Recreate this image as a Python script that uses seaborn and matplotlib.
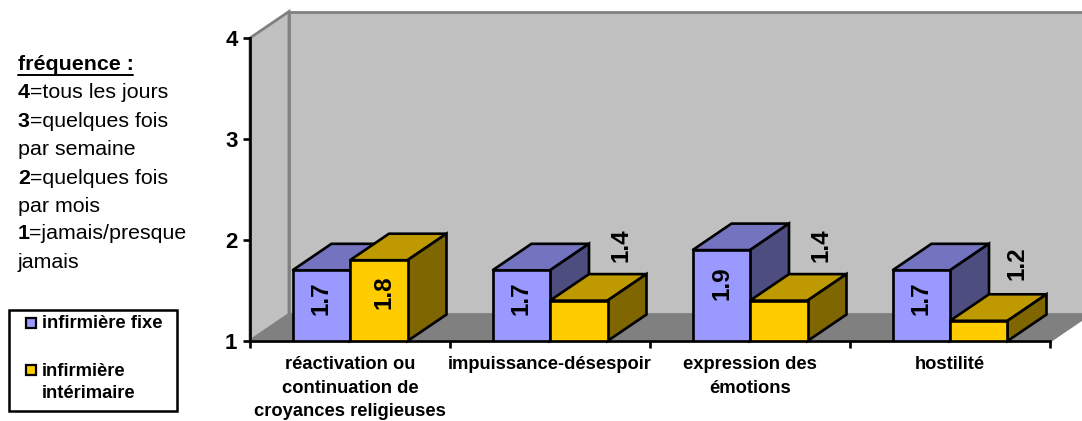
import matplotlib
matplotlib.use("Agg")
import matplotlib.pyplot as plt
import pandas as pd
import seaborn as sns
from matplotlib.lines import Line2D
from matplotlib.patches import Polygon, Rectangle

categories = ["réactivation ou\ncontinuation de\ncroyances religieuses",
              "impuissance-désespoir", "expression des\némotions", "hostilité"]
series_names = ["infirmière fixe", "infirmière intérimaire"]
fixe = [1.7, 1.7, 1.9, 1.7]
interimaire = [1.8, 1.4, 1.4, 1.2]
y_ticks = [1, 2, 3, 4]

W, H = 1082, 421
sns.set_theme(style="white")
plt.rcParams["font.family"] = ["Liberation Sans", "DejaVu Sans"]

df = pd.DataFrame({
    "cat": categories * 2,
    "serie": [series_names[0]] * 4 + [series_names[1]] * 4,
    "val": fixe + interimaire,
})

fig = plt.figure(figsize=(W / 100, H / 100), dpi=100, facecolor="white")
ax = fig.add_axes([250 / W, (H - 341) / H, 800 / W, 303 / H])
ax.patch.set_visible(False)

FRONT = ["#9999FF", "#FFCC00"]
TOP = ["#7373BF", "#BF9900"]
SIDE = ["#4D4D80", "#806600"]
LW = 1.9

sns.barplot(data=df, x="cat", y="val", hue="serie", hue_order=series_names,
            palette=FRONT, saturation=1, width=0.575, gap=0, dodge=True,
            edgecolor="black", linewidth=LW, legend=False, ax=ax, zorder=3)
ax.set_xlim(-0.5, 3.5)
ax.set_ylim(1, 4)
ax.set_xlabel("")
ax.set_ylabel("")

DX, DY = 39 / 200, 26.5 / 101  # depth of the pseudo-3D projection, in data units

# walls and floor
wall_kw = dict(edgecolor="#808080", linewidth=2, clip_on=False, zorder=0.5)
ax.add_patch(Polygon([(-0.5, 1), (-0.5, 4), (-0.5 + DX, 4 + DY), (-0.5 + DX, 1 + DY)],
                     facecolor="#C0C0C0", **wall_kw))
ax.add_patch(Polygon([(-0.5 + DX, 1 + DY), (-0.5 + DX, 4 + DY), (3.5 + DX, 4 + DY), (3.5 + DX, 1 + DY)],
                     facecolor="#C0C0C0", **wall_kw))
ax.add_patch(Polygon([(-0.5, 1), (-0.5 + DX, 1 + DY), (3.5 + DX, 1 + DY), (3.5, 1)],
                     facecolor="#808080", **wall_kw))

# depth faces derived from the bars that seaborn drew
for s, container in enumerate(ax.containers):
    for bar in container:
        bar.set_zorder(3 + s + 0.5)
        x0, x1, v = bar.get_x(), bar.get_x() + bar.get_width(), bar.get_height()
        kw = dict(edgecolor="black", linewidth=LW, clip_on=False, zorder=3 + s, joinstyle="miter")
        ax.add_patch(Polygon([(x0, v), (x1, v), (x1 + DX, v + DY), (x0 + DX, v + DY)], facecolor=TOP[s], **kw))
        ax.add_patch(Polygon([(x1, 1), (x1, v), (x1 + DX, v + DY), (x1 + DX, 1 + DY)], facecolor=SIDE[s], **kw))

# value labels, rotated
for s, container in enumerate(ax.containers):
    for bar in container:
        v = bar.get_height()
        cx = bar.get_x() + bar.get_width() / 2
        if s == 0:
            off = (1, -33) if v >= 1.9 else (0, -28)
        elif v >= 1.8:
            off = (5, -32)
        elif v >= 1.4:
            off = (42, 55)
        else:
            off = (38, 58)
        ax.annotate(f"{v:.1f}", xy=(cx, v), xytext=(off[0] * 0.72, off[1] * 0.72),
                    textcoords="offset points", rotation=90, ha="center", va="center",
                    fontsize=17.5, fontweight="bold", color="black", zorder=8,
                    annotation_clip=False)

# axes
sns.despine(ax=ax, top=True, right=True)
for side in ("left", "bottom"):
    ax.spines[side].set_color("black")
    ax.spines[side].set_linewidth(LW)
    ax.spines[side].set_zorder(7)
ax.set_yticks(y_ticks)
ax.set_yticklabels([str(t) for t in y_ticks], fontsize=16, fontweight="bold", color="black")
ax.tick_params(axis="y", which="major", left=True, length=5, width=LW, color="black", pad=4)
ax.set_xticks([-0.5, 0.5, 1.5, 2.5, 3.5])
ax.set_xticklabels([])
ax.tick_params(axis="x", which="major", bottom=True, length=5, width=LW, color="black")
ax.set_xticks(range(len(categories)), minor=True)
ax.set_xticklabels(categories, minor=True, fontsize=13.2, fontweight="bold", color="black", linespacing=1.5)
ax.tick_params(axis="x", which="minor", bottom=False, length=0, pad=11)
ax.grid(False)


def fx(px):
    return px / W


def fy(py):
    return 1 - py / H


# left-hand explanatory text
TS = 15.4
fig.text(fx(18), fy(65), "fréquence :", fontsize=TS, fontweight="bold", va="center", ha="left", color="black")
fig.add_artist(Line2D([fx(18), fx(133)], [fy(75), fy(75)], color="black", linewidth=1.4))
notes = [(93, "4", "=tous les jours"), (121, "3", "=quelques fois"), (149, "", "par semaine"),
         (178, "2", "=quelques fois"), (206, "", "par mois"), (234, "1", "=jamais/presque"), (262, "", "jamais")]
for py, b, t in notes:
    if b:
        fig.text(fx(18), fy(py), b, fontsize=TS, fontweight="bold", va="center", ha="left", color="black")
        fig.text(fx(29.5), fy(py), t, fontsize=TS, va="center", ha="left", color="black")
    else:
        fig.text(fx(18), fy(py), t, fontsize=TS, va="center", ha="left", color="black")

# legend box
fig.add_artist(Rectangle((fx(9), fy(411)), 168 / W, 101 / H, transform=fig.transFigure,
                         facecolor="white", edgecolor="black", linewidth=1.8))
for (py, color) in [(323, FRONT[0]), (370, FRONT[1])]:
    fig.add_artist(Rectangle((fx(26), fy(py + 5)), 10 / W, 10 / H, transform=fig.transFigure,
                             facecolor=color, edgecolor="black", linewidth=1.6))
for py, t in [(323, "infirmière fixe"), (371, "infirmière"), (394, "intérimaire")]:
    fig.text(fx(42), fy(py), t, fontsize=13.2, fontweight="bold", va="center", ha="left", color="black")

fig.savefig("out.png", dpi=100, facecolor="white")
